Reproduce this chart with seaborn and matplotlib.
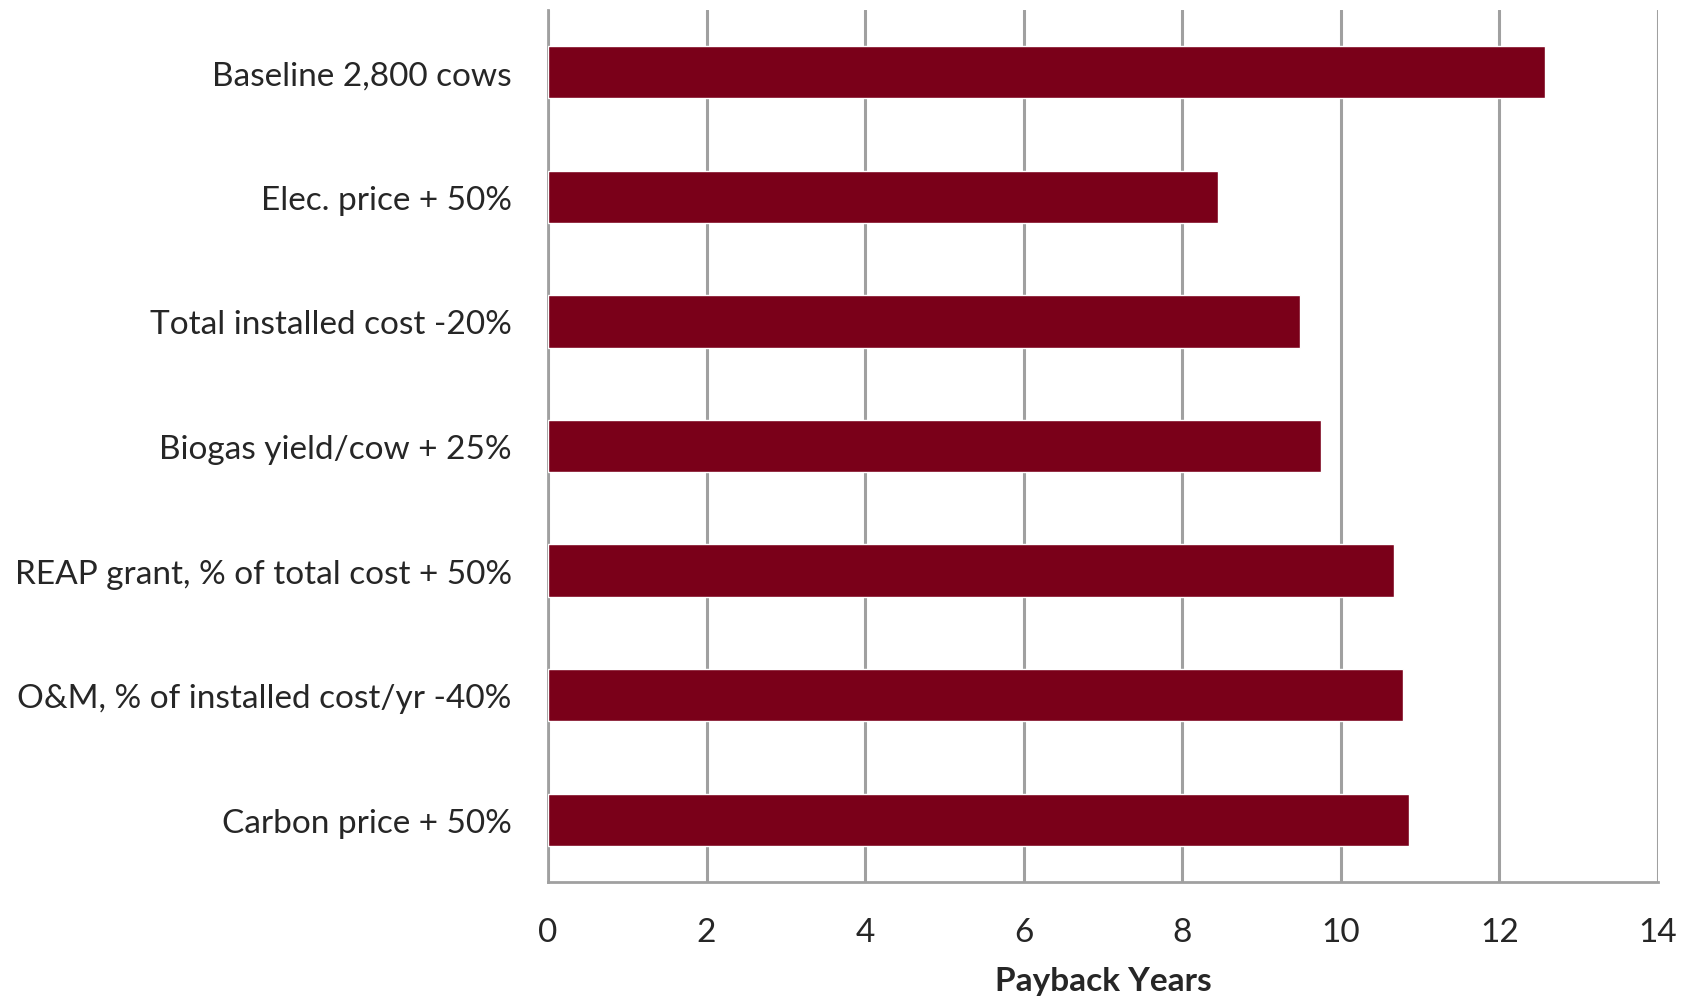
import matplotlib
matplotlib.use("Agg")
import matplotlib.pyplot as plt
import seaborn as sns
import pandas as pd

categories = [
    "Baseline 2,800 cows",
    "Elec. price + 50%",
    "Total installed cost -20%",
    "Biogas yield/cow + 25%",
    "REAP grant, % of total cost + 50%",
    "O&M, % of installed cost/yr -40%",
    "Carbon price + 50%",
]
payback_years = [12.58, 8.45, 9.48, 9.75, 10.67, 10.78, 10.86]
x_ticks = [0, 2, 4, 6, 8, 10, 12, 14]

df = pd.DataFrame({"Scenario": categories, "Payback": payback_years})

sns.set_style("white")
plt.rcParams["font.family"] = ["Lato", "DejaVu Sans"]

fig = plt.figure(figsize=(16.88, 10.03), dpi=100)
ax = fig.add_axes([0.3246, 0.1196, 0.6576, 0.8694])

grid_color = "#a0a0a0"
sns.barplot(data=df, x="Payback", y="Scenario", orient="h", color="#7a0019",
            saturation=1, width=0.42, ax=ax, zorder=3)

ax.set_xlim(0, 14)
ax.set_ylim(6.5, -0.5)
ax.set_xticks(x_ticks)
ax.set_xticklabels([str(t) for t in x_ticks], fontsize=24)
ax.xaxis.grid(True, color=grid_color, linewidth=2.2, zorder=0)
ax.set_axisbelow(True)

# y ticks at category boundaries, labels at centres
ax.set_yticks([i - 0.5 for i in range(8)], minor=False)
ax.set_yticklabels([])
ax.set_yticks(range(len(categories)), minor=True)
ax.set_yticklabels(categories, minor=True, fontsize=24)
ax.tick_params(axis="y", which="major", length=10, width=2, color=grid_color, direction="out")
ax.tick_params(axis="y", which="minor", length=0, pad=26)
ax.tick_params(axis="x", which="major", length=12, width=2, color=grid_color, direction="out", pad=13)

for side in ["top", "right"]:
    ax.spines[side].set_visible(False)
for side in ["left", "bottom"]:
    ax.spines[side].set_color(grid_color)
    ax.spines[side].set_linewidth(2)

ax.set_ylabel("")
ax.set_xlabel("Payback Years", fontsize=24, fontweight="bold", labelpad=14)

fig.savefig("out.png", dpi=100)
